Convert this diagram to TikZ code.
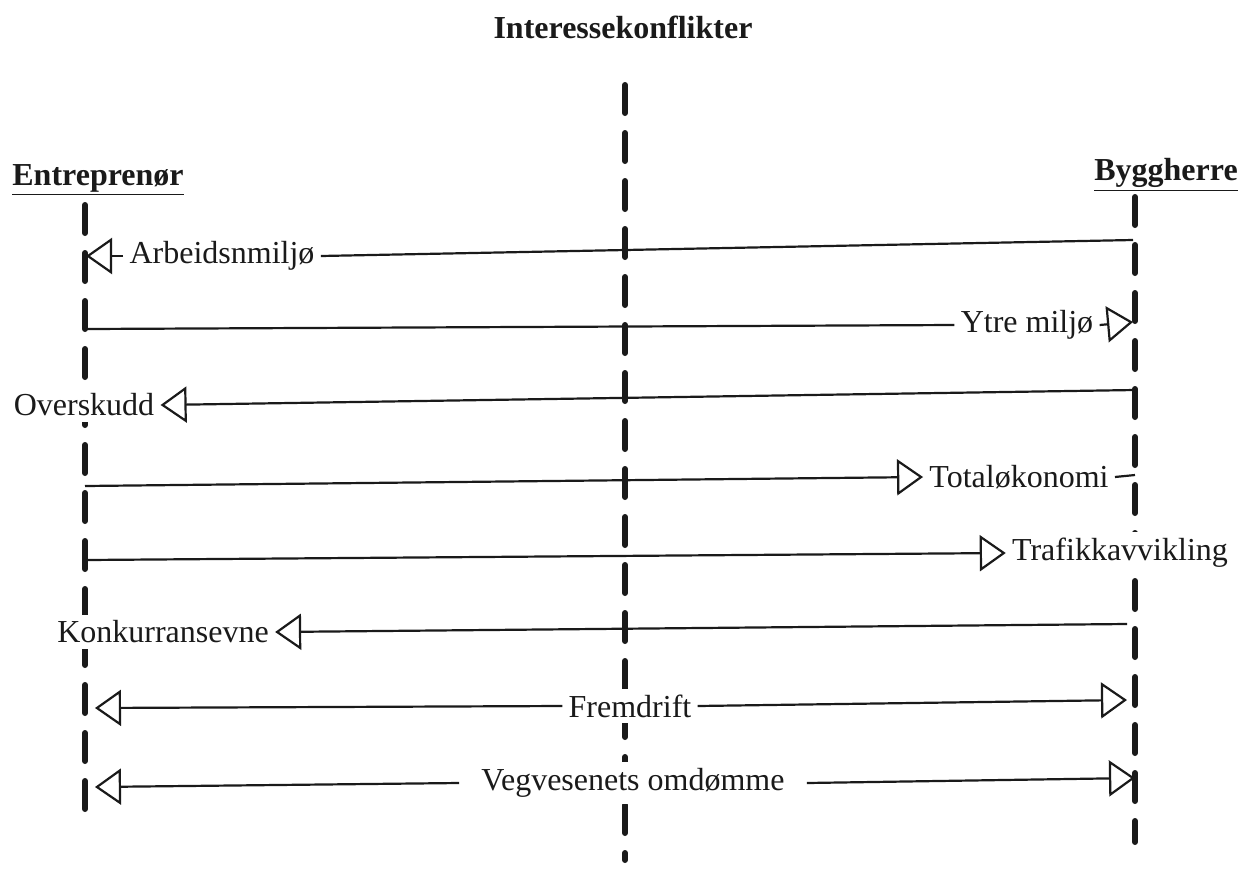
\documentclass[tikz,border=0pt]{standalone}
\usepackage{fontspec}
\setmainfont{Liberation Serif}
\usepackage{tikz}
\usetikzlibrary{arrows.meta,positioning}
\definecolor{ink}{HTML}{1A1A1A}
\tikzset{
  lifeline/.style={
    draw=ink, line width=3pt, line cap=round,
    dash pattern=on 14pt off 10pt
  },
  partylabel/.style={
    font=\fontsize{16}{19}\selectfont\bfseries, text=ink,
    inner sep=2pt
  },
  topic/.style={
    font=\fontsize{16}{19}\selectfont, text=ink, fill=white,
    inner sep=3pt
  },
  flowline/.style={draw=ink, line width=1.1pt},
  flowarrow/.style={
    flowline, -{Triangle[open, length=13pt, width=18pt]}
  },
}

\begin{document}
\begin{tikzpicture}[x=0.5pt, y=-0.5pt]
\useasboundingbox (0,0) rectangle (1242,868);

\node[partylabel] (title) at (623,27) {Interessekonflikter};
\node[partylabel] (entr) at (98,180) {\underline{Entreprenør}};
\node[partylabel] (bygg) at (1166,175) {\underline{Byggherre}};

% Lifelines
\coordinate (etop) at (85,205);
\coordinate (ebot) at (85,812);
\coordinate (mtop) at (625,85);
\coordinate (mbot) at (625,860);
\coordinate (btop) at (1135,197);
\coordinate (bbot) at (1135,842);
\draw[lifeline] (etop) -- (ebot);
\draw[lifeline] (mtop) -- (mbot);
\draw[lifeline] (btop) -- (bbot);

% Topics
\node[topic] (arbeid) at (222,256) {Arbeidsnmiljø};
\node[topic] (ytre) at (1027,325) {Ytre miljø};
\node[topic] (oversk) at (84,405) {Overskudd};
\node[topic] (total) at (1019,477) {Totaløkonomi};
\node[topic] (trafikk) at (1120,553) {Trafikkavvikling};
\node[topic] (konk) at (163,632) {Konkurransevne};
\node[topic] (fremdrift) at (630,706) {Fremdrift};
\node[topic] (omdomme) at (633,783) {Vegvesenets omdømme};

% Ends on the lifelines
\coordinate (e1) at (86,256);
\coordinate (b1) at (1133,240);
\coordinate (e2) at (87,329);
\coordinate (b2) at (1133,322);
\coordinate (b3) at (1135,390);
\coordinate (e4) at (85,486);
\coordinate (b4) at (1135,475);
\coordinate (e5) at (87,560);
\coordinate (b6) at (1127,624);
\coordinate (e7) at (95,708);
\coordinate (b7) at (1127,700);
\coordinate (e8) at (95,787);
\coordinate (b8) at (1135,778);

% Flows
\draw[flowline] (b1) -- (arbeid.east);
\draw[flowarrow] (arbeid.west) -- (e1);
\draw[flowline] (e2) -- (ytre.west);
\draw[flowarrow] (ytre.east) -- (b2);
\draw[flowarrow] (b3) -- (oversk.east);
\draw[flowarrow] (e4) -- (total.west);
\draw[flowline] (total.east) -- (b4);
\draw[flowarrow] (e5) -- (trafikk.west);
\draw[flowarrow] (b6) -- (konk.east);
\draw[flowarrow] (fremdrift.west) -- (e7);
\draw[flowarrow] (fremdrift.east) -- (b7);
\draw[flowarrow] ([xshift=-8pt]omdomme.west) -- (e8);
\draw[flowarrow] ([xshift=8pt]omdomme.east) -- (b8);

\end{tikzpicture}
\end{document}
